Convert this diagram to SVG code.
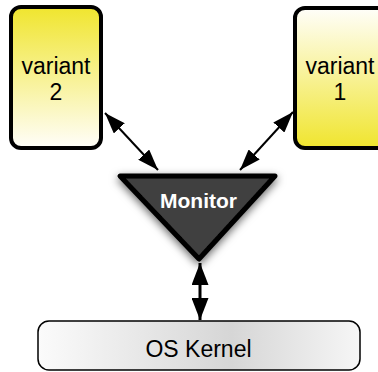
<svg xmlns="http://www.w3.org/2000/svg" width="378" height="372" viewBox="0 0 378 372">
  <defs>
    <linearGradient id="yDown" x1="0" y1="0" x2="0" y2="1">
      <stop offset="0" stop-color="#f0e52e"/>
      <stop offset="1" stop-color="#fffefa"/>
    </linearGradient>
    <linearGradient id="yUp" x1="0" y1="0" x2="0" y2="1">
      <stop offset="0" stop-color="#fffefa"/>
      <stop offset="1" stop-color="#f0e52e"/>
    </linearGradient>
    <linearGradient id="gray" x1="0" y1="0" x2="1" y2="0">
      <stop offset="0" stop-color="#fbfbfb"/>
      <stop offset="0.6" stop-color="#d6d6d6"/>
      <stop offset="1" stop-color="#f6f6f6"/>
    </linearGradient>
    <filter id="shadow" x="-30%" y="-30%" width="160%" height="170%">
      <feDropShadow dx="0" dy="3" stdDeviation="4" flood-color="#000" flood-opacity="0.6"/>
    </filter>
    <marker id="ah" markerUnits="userSpaceOnUse" markerWidth="21" markerHeight="15" refX="21" refY="7.5" orient="auto-start-reverse">
      <path d="M0,0 L21,7.5 L0,15 z" fill="#000"/>
    </marker>
    <marker id="ahBig" markerUnits="userSpaceOnUse" markerWidth="22" markerHeight="17" refX="22" refY="8.5" orient="auto-start-reverse">
      <path d="M0,0 L22,8.5 L0,17 z" fill="#000"/>
    </marker>
    <style>
      .variant { stroke: #000; stroke-width: 4; }
      .label { font-family: "Liberation Sans", Arial, sans-serif; font-size: 23px; fill: #000; text-anchor: middle; }
      .conn { stroke: #000; stroke-width: 2; fill: none; }
    </style>
  </defs>

  <g id="connectors">
    <line class="conn" x1="105" y1="113" x2="158" y2="170" marker-start="url(#ah)" marker-end="url(#ah)"/>
    <line class="conn" x1="293" y1="112" x2="240" y2="170" marker-start="url(#ah)" marker-end="url(#ah)"/>
    <line class="conn" style="stroke-width:3" x1="200" y1="263" x2="200" y2="320" marker-start="url(#ahBig)" marker-end="url(#ahBig)"/>
  </g>

  <g id="variant2">
    <rect class="variant" x="11" y="7" width="90" height="141" rx="10" fill="url(#yDown)"/>
    <text class="label" x="56" y="74">variant</text>
    <text class="label" x="56" y="100">2</text>
  </g>

  <g id="variant1">
    <rect class="variant" x="295" y="8" width="92" height="140" rx="10" fill="url(#yUp)"/>
    <text class="label" x="340" y="74">variant</text>
    <text class="label" x="340" y="100">1</text>
  </g>

  <g id="monitor">
    <polygon points="120,176 275,176 199,259" fill="#3f3f3f" stroke="#000" stroke-width="5" stroke-linejoin="round" filter="url(#shadow)"/>
    <text x="198.5" y="208" font-family="Liberation Sans, Arial, sans-serif" font-size="21" font-weight="bold" fill="#fff" text-anchor="middle">Monitor</text>
  </g>

  <g id="kernel">
    <rect x="38" y="321" width="322" height="49" rx="11" fill="url(#gray)" stroke="#000" stroke-width="1.5"/>
    <text class="label" x="198.5" y="357">OS Kernel</text>
  </g>
</svg>
